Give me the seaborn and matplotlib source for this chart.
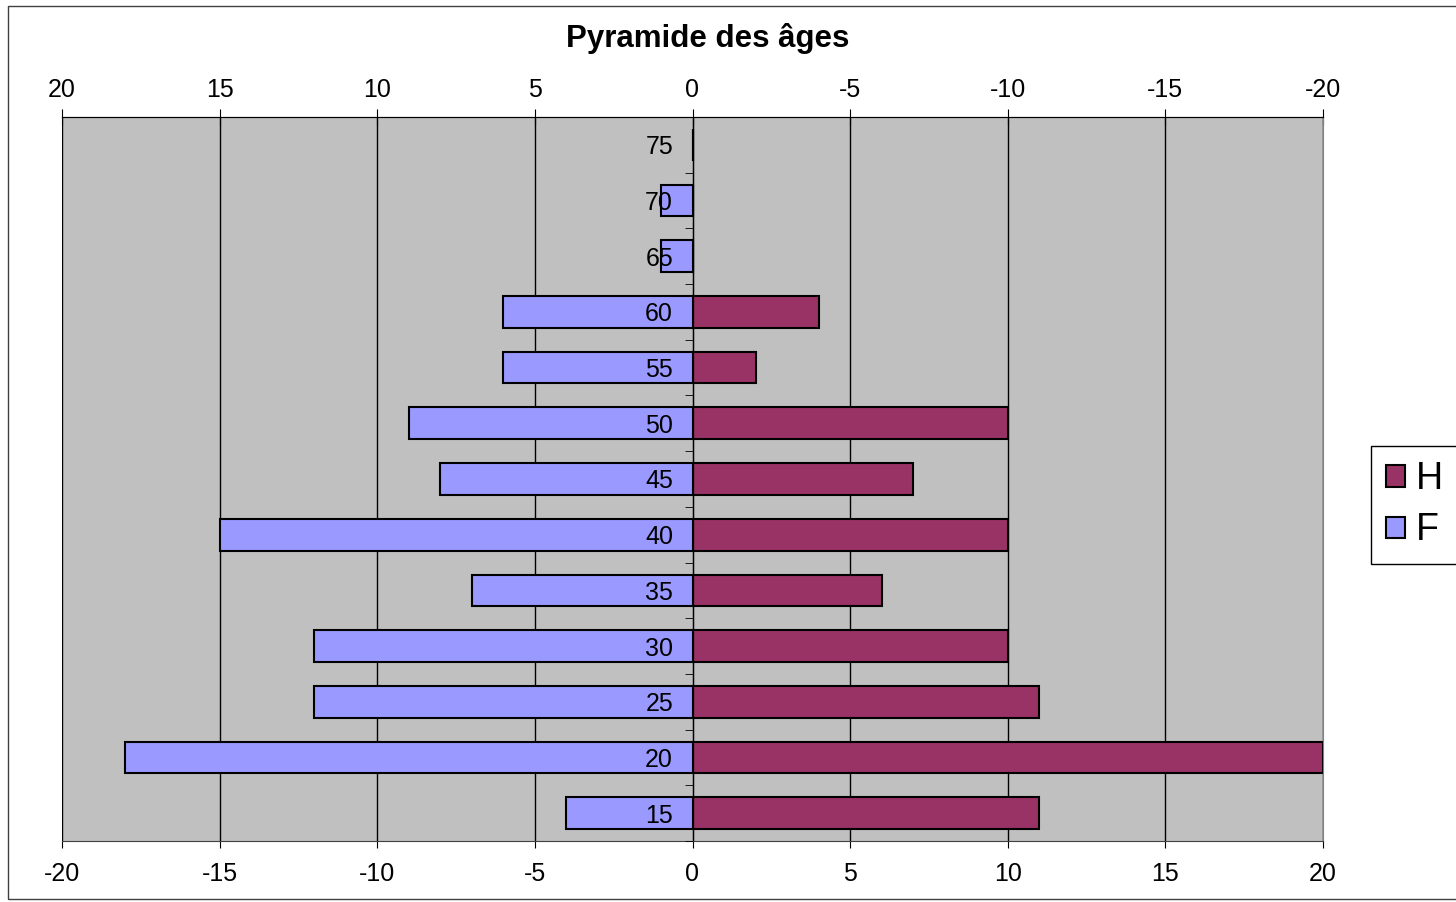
import numpy as np
import pandas as pd
import matplotlib
matplotlib.use('Agg')
import matplotlib.pyplot as plt
import seaborn as sns
from matplotlib.patches import Rectangle

# Tranches d'âge, du haut vers le bas
ages = ['75', '70', '65', '60', '55', '50', '45', '40', '35', '30', '25', '20', '15']
femmes = [0, -1, -1, -6, -6, -9, -8, -15, -7, -12, -12, -18, -4]
hommes = [0, 0, 0, 4, 2, 10, 7, 10, 6, 10, 11, 20, 11]
x_ticks = [-20, -15, -10, -5, 0, 5, 10, 15, 20]

df = pd.DataFrame({
    'age': ages * 2,
    'sexe': ['H'] * len(ages) + ['F'] * len(ages),
    'effectif': hommes + femmes,
})

plt.rcParams['font.family'] = ['Liberation Sans', 'DejaVu Sans']
plt.rcParams['axes.unicode_minus'] = False

W, H = 1456, 902
fig = plt.figure(figsize=(W / 100, H / 100), dpi=100)
ax = fig.add_axes([62 / W, 1 - 841 / H, (1323 - 62) / W, (841 - 117) / H])

sns.barplot(data=df, y='age', x='effectif', hue='sexe', order=ages,
            hue_order=['H', 'F'], palette={'H': '#993366', 'F': '#9999FF'},
            dodge=False, width=0.57, saturation=1, edgecolor='black',
            linewidth=1.5, orient='h', ax=ax)

handles, labels = ax.get_legend_handles_labels()
ax.get_legend().remove()

ax.set_xlim(-20, 20)
ax.set_facecolor('#C0C0C0')
ax.set_xlabel('')
ax.set_ylabel('')
ax.set_xticks(x_ticks)
ax.grid(axis='x', color='black', linewidth=1)
# grille sous les barres, étiquettes d'âge par-dessus
ax.xaxis.set_zorder(0.5)
ax.yaxis.set_zorder(3)

# axe des âges au milieu
ax.spines['left'].set_position(('data', 0))
ax.spines['left'].set_color('black')
ax.spines['right'].set_color('#808080')
ax.spines['bottom'].set_color('#404040')
ax.spines['top'].set_color('black')
ax.set_yticks(np.arange(-0.5, len(ages), 1), minor=True)
ax.tick_params(axis='y', which='major', length=0, pad=14, labelsize=18)
ax.tick_params(axis='y', which='minor', length=6, direction='out', color='black')
ax.tick_params(axis='x', direction='out', length=5, pad=10, labelsize=18)

# axe du haut, valeurs inversées
sec = ax.secondary_xaxis('top', functions=(lambda v: -v, lambda v: -v))
sec.set_xticks(x_ticks)
sec.tick_params(direction='inout', length=12, pad=5, labelsize=18)
sec.spines['top'].set_color('black')

fig.text(708 / W, 1 - 38 / H, 'Pyramide des âges', ha='center', va='center',
         fontsize=22.5, fontweight='bold')

fig.legend(handles, labels, loc='center left',
           bbox_to_anchor=(1371 / W, 1 - 505 / H), fontsize=27,
           fancybox=False, edgecolor='black', framealpha=1, borderaxespad=0,
           handlelength=0.5, handleheight=0.5, handletextpad=0.3,
           borderpad=0.4, labelspacing=0.4)

fig.patches.append(Rectangle((8 / W, 1 - 899 / H), 1.0, (899 - 6) / H,
                             transform=fig.transFigure, fill=False,
                             edgecolor='#404040', linewidth=1))

fig.savefig('out.png', dpi=100)
